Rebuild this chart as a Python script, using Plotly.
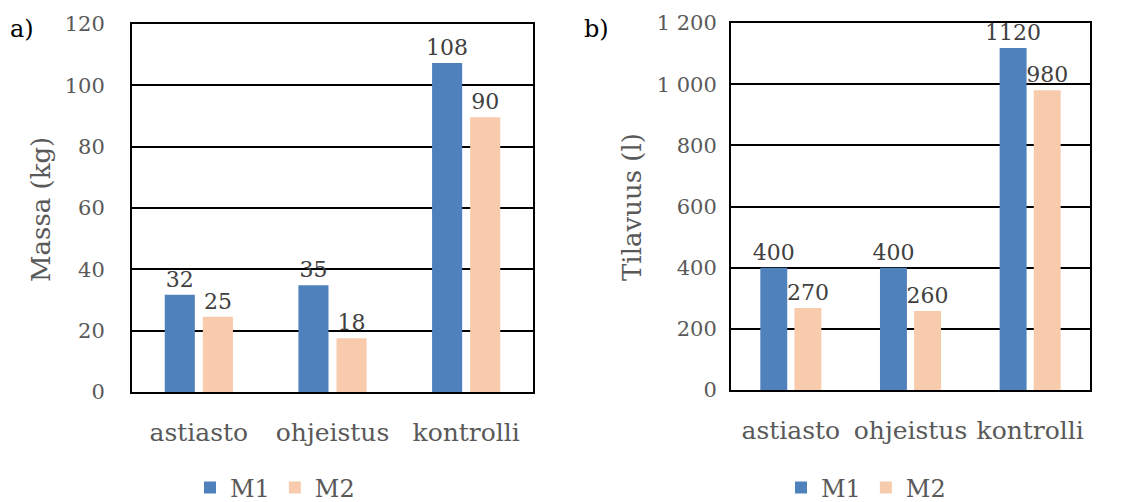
import plotly.graph_objects as go

categories = ["astiasto", "ohjeistus", "kontrolli"]
series_names = ["M1", "M2"]
mass_m1 = [31.7, 34.8, 107.3]
mass_m2 = [24.5, 17.5, 89.6]
mass_m1_labels = ["32", "35", "108"]
mass_m2_labels = ["25", "18", "90"]
vol_m1 = [400, 400, 1118]
vol_m2 = [268, 258, 980]
vol_m1_labels = ["400", "400", "1120"]
vol_m2_labels = ["270", "260", "980"]
mass_ticks = [0, 20, 40, 60, 80, 100, 120]
vol_ticks = [0, 200, 400, 600, 800, 1000, 1200]
vol_ticktext = ["0", "200", "400", "600", "800", "1 000", "1 200"]

C1 = "#4F81BD"
C2 = "#F8CBAD"
FONT = "DejaVu Serif"
W, H = 1130, 502

fig = go.Figure()

def add_bars(x_ax, y_ax, v1, v2, t1, t2, legend):
    for name, vals, txt, col in [(series_names[0], v1, t1, C1), (series_names[1], v2, t2, C2)]:
        fig.add_trace(go.Bar(
            x=categories, y=vals, name=name, text=txt, textposition="outside",
            textfont=dict(family=FONT, size=22, color="#404040"),
            constraintext="none", cliponaxis=False,
            marker=dict(color=col, line=dict(width=0)),
            xaxis=x_ax, yaxis=y_ax, legend=legend,
        ))

add_bars("x", "y", mass_m1, mass_m2, mass_m1_labels, mass_m2_labels, "legend")
add_bars("x2", "y2", vol_m1, vol_m2, vol_m1_labels, vol_m2_labels, "legend2")

def px_x(p):
    return p / W

def px_y(p):
    return 1 - p / H

axis_common = dict(showline=True, linecolor="black", linewidth=2, mirror=True)
tick_font = dict(family=FONT, size=21, color="#595959")
cat_font = dict(family=FONT, size=25, color="#595959")
leg_font = dict(family=FONT, size=24, color="#595959")

fig.update_layout(
    width=W, height=H,
    margin=dict(l=0, r=0, t=0, b=0, autoexpand=False),
    paper_bgcolor="white", plot_bgcolor="white",
    barmode="group", bargap=0.43, bargroupgap=0.21,
    font=dict(family=FONT, color="#595959"),
    xaxis=dict(domain=[px_x(132), px_x(533)], anchor="y", **axis_common,
               showgrid=False, ticks="", ticklabelstandoff=17, tickfont=cat_font),
    yaxis=dict(domain=[px_y(392), px_y(24)], anchor="x", **axis_common,
               range=[0, 120], tickvals=mass_ticks, showgrid=True,
               gridcolor="black", gridwidth=1.5, ticks="",
               ticklabelstandoff=21, tickfont=tick_font),
    xaxis2=dict(domain=[px_x(731), px_x(1090)], anchor="y2", **axis_common,
                showgrid=False, ticks="", ticklabelstandoff=17, tickfont=cat_font),
    yaxis2=dict(domain=[px_y(390), px_y(23)], anchor="x2", **axis_common,
                range=[0, 1200], tickvals=vol_ticks, ticktext=vol_ticktext,
                showgrid=True, gridcolor="black", gridwidth=1.5, ticks="",
                ticklabelstandoff=8, tickfont=tick_font),
    legend=dict(orientation="h", x=px_x(190), y=px_y(488), xanchor="left",
                yanchor="middle", font=leg_font, bgcolor="rgba(0,0,0,0)"),
    legend2=dict(orientation="h", x=px_x(781), y=px_y(488), xanchor="left",
                 yanchor="middle", font=leg_font, bgcolor="rgba(0,0,0,0)"),
    showlegend=True,
    annotations=[
        dict(text="Massa (kg)", x=px_x(41), y=px_y(210), xref="paper", yref="paper",
             textangle=-90, showarrow=False, font=dict(family=FONT, size=26, color="#595959"),
             xanchor="center", yanchor="middle"),
        dict(text="Tilavuus (l)", x=px_x(632), y=px_y(207), xref="paper", yref="paper",
             textangle=-90, showarrow=False, font=dict(family=FONT, size=26, color="#595959"),
             xanchor="center", yanchor="middle"),
        dict(text="a)", x=px_x(22), y=px_y(29), xref="paper", yref="paper",
             showarrow=False, font=dict(family=FONT, size=24, color="black"),
             xanchor="center", yanchor="middle"),
        dict(text="b)", x=px_x(596), y=px_y(29), xref="paper", yref="paper",
             showarrow=False, font=dict(family=FONT, size=24, color="black"),
             xanchor="center", yanchor="middle"),
    ],
)

fig.write_html("out.html")
